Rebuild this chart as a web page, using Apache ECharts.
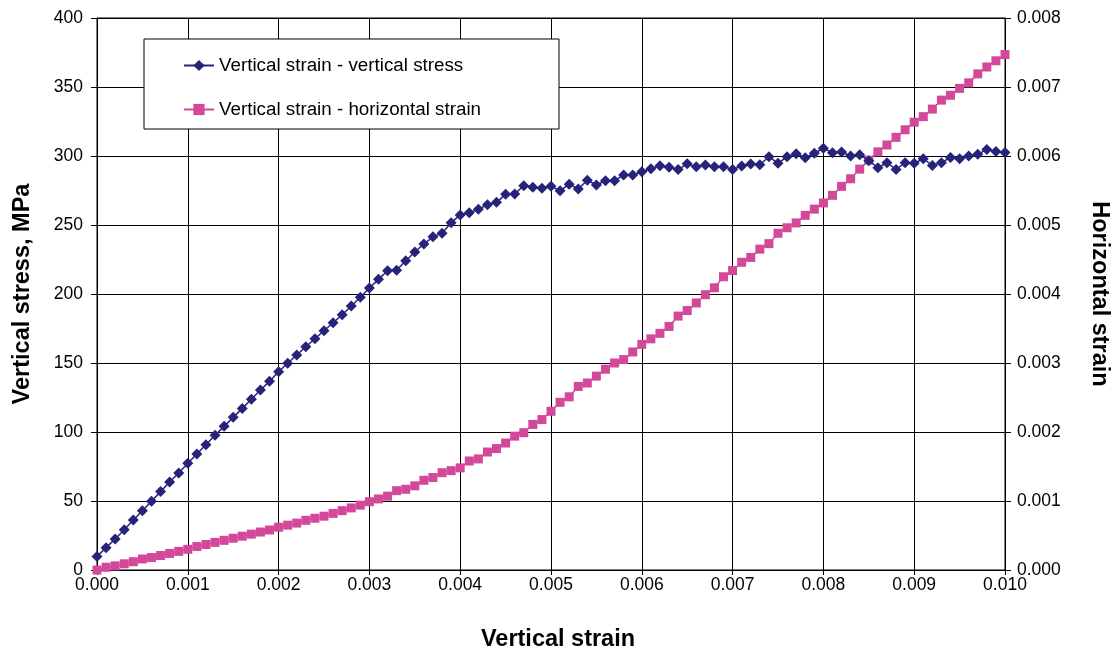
<!DOCTYPE html>
<html>
<head>
<meta charset="utf-8">
<script src="https://cdn.jsdelivr.net/npm/echarts@6/dist/echarts.min.js"></script>
<style>
html,body{margin:0;padding:0;background:#fff;}
#chart{width:1113px;height:653px;}
</style>
</head>
<body>
<div id="chart"></div>
<script>
// Vertical strain (x) sample positions
const verticalStrain = [
0.0000,0.0001,0.0002,0.0003,0.0004,0.0005,0.0006,0.0007,0.0008,0.0009,
0.0010,0.0011,0.0012,0.0013,0.0014,0.0015,0.0016,0.0017,0.0018,0.0019,
0.0020,0.0021,0.0022,0.0023,0.0024,0.0025,0.0026,0.0027,0.0028,0.0029,
0.0030,0.0031,0.0032,0.0033,0.0034,0.0035,0.0036,0.0037,0.0038,0.0039,
0.0040,0.0041,0.0042,0.0043,0.0044,0.0045,0.0046,0.0047,0.0048,0.0049,
0.0050,0.0051,0.0052,0.0053,0.0054,0.0055,0.0056,0.0057,0.0058,0.0059,
0.0060,0.0061,0.0062,0.0063,0.0064,0.0065,0.0066,0.0067,0.0068,0.0069,
0.0070,0.0071,0.0072,0.0073,0.0074,0.0075,0.0076,0.0077,0.0078,0.0079,
0.0080,0.0081,0.0082,0.0083,0.0084,0.0085,0.0086,0.0087,0.0088,0.0089,
0.0090,0.0091,0.0092,0.0093,0.0094,0.0095,0.0096,0.0097,0.0098,0.0099,
0.0100
];
// Vertical stress, MPa
const verticalStress = [
9.8,16.2,22.5,29.2,36.2,43.0,49.8,56.8,63.8,70.3,
77.3,84.0,90.8,97.6,104.1,110.6,117.1,123.7,130.4,136.7,
143.7,149.8,155.8,161.8,167.6,173.4,179.2,185.0,191.3,197.6,
204.3,210.6,216.9,217.2,224.1,230.4,236.2,241.4,244.1,251.7,
257.3,258.9,261.5,264.7,266.4,272.2,272.5,278.5,277.3,276.6,
278.0,274.9,279.5,276.1,282.4,279.0,282.1,282.1,286.2,286.2,
288.6,290.8,292.9,291.8,290.2,294.3,292.2,293.5,292.2,292.3,
290.3,292.8,294.2,293.7,299.5,294.7,299.5,301.7,298.8,302.0,
305.6,302.4,302.9,300.0,300.9,296.6,291.5,295.1,290.3,295.1,
294.7,298.0,293.2,295.1,299.0,298.0,300.0,301.2,304.8,303.2,
302.5
];
// Horizontal strain
const horizontalStrain = [
0.00000,0.00004,0.00006,0.00009,0.00012,0.00016,0.00018,0.00021,0.00024,0.00027,
0.00030,0.00034,0.00037,0.00040,0.00043,0.00046,0.00049,0.00052,0.00055,0.00058,
0.00062,0.00065,0.00068,0.00072,0.00075,0.00078,0.00082,0.00086,0.00090,0.00094,
0.00099,0.00103,0.00107,0.00115,0.00117,0.00122,0.00130,0.00134,0.00141,0.00144,
0.00148,0.00158,0.00161,0.00171,0.00176,0.00184,0.00194,0.00199,0.00211,0.00218,
0.00230,0.00243,0.00251,0.00266,0.00271,0.00281,0.00291,0.00300,0.00305,0.00316,
0.00327,0.00335,0.00343,0.00353,0.00368,0.00376,0.00387,0.00399,0.00409,0.00425,
0.00434,0.00446,0.00453,0.00465,0.00473,0.00488,0.00496,0.00503,0.00514,0.00523,
0.00532,0.00543,0.00556,0.00567,0.00581,0.00594,0.00606,0.00616,0.00627,0.00638,
0.00649,0.00657,0.00668,0.00681,0.00688,0.00698,0.00706,0.00719,0.00729,0.00738,
0.00747
];
const seriesNames = ['Vertical strain - vertical stress','Vertical strain - horizontal strain'];
const xTitle = 'Vertical strain';
const yLeftTitle = 'Vertical stress, MPa';
const yRightTitle = 'Horizontal strain';

const stressData = verticalStrain.map((x, i) => [x, verticalStress[i]]);
const hStrainData = verticalStrain.map((x, i) => [x, horizontalStrain[i]]);

const FONT = '"Liberation Sans", Arial, sans-serif';
const NAVY = '#28237A';
const PINK = '#D4489A';

const chart = echarts.init(document.getElementById('chart'), null, {renderer: 'canvas'});
chart.setOption({
  animation: false,
  backgroundColor: '#ffffff',
  textStyle: {fontFamily: FONT},
  grid: {left: 97, right: 108, top: 18, bottom: 83, outerBoundsMode: 'none', containLabel: false,
         show: true, borderColor: '#000', borderWidth: 1, backgroundColor: '#fff'},
  legend: {
    orient: 'vertical',
    left: 144, top: 39,
    padding: [17, 78, 10, 39],
    itemGap: 25,
    itemWidth: 30, itemHeight: 14,
    backgroundColor: '#fff',
    borderColor: '#000', borderWidth: 1,
    textStyle: {fontFamily: FONT, fontSize: 18.8, color: '#000'},
    data: seriesNames
  },
  xAxis: {
    type: 'value', min: 0, max: 0.01, interval: 0.001,
    name: xTitle, nameLocation: 'middle', nameGap: 58,
    nameTextStyle: {fontFamily: FONT, fontSize: 23.5, fontWeight: 'bold', color: '#000', padding: [0, 0, 0, 14]},
    axisLine: {show: true, lineStyle: {color: '#000', width: 1}},
    axisTick: {show: true, length: 5, inside: false, lineStyle: {color: '#000'}},
    axisLabel: {fontFamily: FONT, fontSize: 17.5, color: '#000', margin: 6, formatter: v => v.toFixed(3)},
    splitLine: {show: true, lineStyle: {color: '#000', width: 1}}
  },
  yAxis: [{
    type: 'value', min: 0, max: 400, interval: 50, position: 'left',
    name: yLeftTitle, nameLocation: 'middle', nameGap: 62, nameRotate: 90,
    nameTextStyle: {fontFamily: FONT, fontSize: 23.5, fontWeight: 'bold', color: '#000'},
    axisLine: {show: true, lineStyle: {color: '#000', width: 1}},
    axisTick: {show: true, length: 6, lineStyle: {color: '#000'}},
    axisLabel: {fontFamily: FONT, fontSize: 17.5, color: '#000', margin: 14},
    splitLine: {show: true, lineStyle: {color: '#000', width: 1}}
  }, {
    type: 'value', min: 0, max: 0.008, interval: 0.001, position: 'right',
    name: yRightTitle, nameLocation: 'middle', nameGap: 82, nameRotate: -90,
    nameTextStyle: {fontFamily: FONT, fontSize: 23.5, fontWeight: 'bold', color: '#000'},
    axisLine: {show: true, lineStyle: {color: '#000', width: 1}},
    axisTick: {show: true, length: 6, lineStyle: {color: '#000'}},
    axisLabel: {fontFamily: FONT, fontSize: 17.5, color: '#000', margin: 12, formatter: v => v.toFixed(3)},
    splitLine: {show: false}
  }],
  series: [{
    name: seriesNames[0], type: 'line', yAxisIndex: 0,
    data: stressData,
    symbol: 'diamond', symbolSize: 11, showAllSymbol: true,
    lineStyle: {color: NAVY, width: 1.5},
    itemStyle: {color: NAVY, borderWidth: 0},
    z: 3
  }, {
    name: seriesNames[1], type: 'line', yAxisIndex: 1,
    data: hStrainData,
    symbol: 'rect', symbolSize: 9, showAllSymbol: true,
    lineStyle: {color: PINK, width: 1.5},
    itemStyle: {color: PINK, borderWidth: 0},
    z: 2
  }]
});
</script>
</body>
</html>
